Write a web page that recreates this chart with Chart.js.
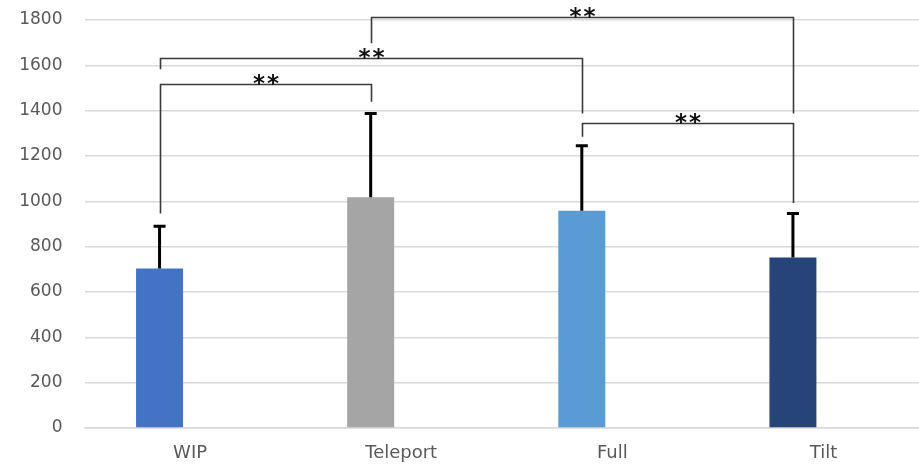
<!DOCTYPE html>
<html>
<head>
<meta charset="utf-8">
<title>Mean time by locomotion technique</title>
<script src="https://cdn.jsdelivr.net/npm/chart.js@4/dist/chart.umd.min.js"></script>
<style>
  html, body { margin: 0; padding: 0; background: #ffffff; overflow: hidden; }
  #wrap { width: 929px; height: 465px; }
</style>
</head>
<body>
<div id="wrap"><canvas id="chart" width="929" height="465"></canvas></div>
<script>
// Categories and values
const categories = ['WIP', 'Teleport', 'Full', 'Tilt'];
const means = [704, 1018, 958, 752];
const stdDev = [186, 370, 287, 194];
const barColors = ['#4472C4', '#A5A5A5', '#5B9BD5', '#264478'];

// Value axis
const yMin = 0;
const yMax = 1800;
const yStep = 200;

// Significance brackets: [from index, to index, bar level, left leg end, right leg end]
const bracketFrom = [0, 0, 1, 2];
const bracketTo = [1, 2, 3, 3];
const bracketLevel = [1519, 1634, 1815, 1347];
const bracketLeftEnd = [946, 1583, 1697, 1285];
const bracketRightEnd = [1439, 1388, 1388, 993];
const bracketLabel = ['**', '**', '**', '**'];

// Upper error bars drawn over each bar
const errorBarPlugin = {
  id: 'errorBars',
  afterDatasetsDraw(chart) {
    const ctx = chart.ctx;
    const y = chart.scales.y;
    const meta = chart.getDatasetMeta(0);
    ctx.save();
    ctx.strokeStyle = '#000000';
    ctx.lineWidth = 3;
    meta.data.forEach((bar, i) => {
      const x = bar.x;
      const y0 = y.getPixelForValue(means[i]);
      const y1 = y.getPixelForValue(means[i] + stdDev[i]);
      ctx.beginPath();
      ctx.moveTo(x, y0);
      ctx.lineTo(x, y1);
      ctx.moveTo(x - 6, y1);
      ctx.lineTo(x + 6, y1);
      ctx.stroke();
    });
    ctx.restore();
  }
};

// Significance brackets with labels
const bracketPlugin = {
  id: 'brackets',
  afterDraw(chart) {
    const ctx = chart.ctx;
    const y = chart.scales.y;
    const meta = chart.getDatasetMeta(0);
    ctx.save();
    ctx.strokeStyle = '#3a3a3a';
    ctx.lineWidth = 1.6;
    ctx.fillStyle = '#111111';
    ctx.font = 'bold 23px "DejaVu Sans"';
    ctx.letterSpacing = '2px';
    ctx.textAlign = 'center';
    ctx.textBaseline = 'alphabetic';
    bracketLevel.forEach((lvl, k) => {
      const xa = Math.round(meta.data[bracketFrom[k]].x) + 0.5;
      const xb = Math.round(meta.data[bracketTo[k]].x) + 0.5;
      const yl = Math.round(y.getPixelForValue(lvl)) + 0.5;
      const ya = y.getPixelForValue(bracketLeftEnd[k]);
      const yb = y.getPixelForValue(bracketRightEnd[k]);
      ctx.beginPath();
      ctx.moveTo(xa, ya);
      ctx.lineTo(xa, yl);
      ctx.lineTo(xb, yl);
      ctx.lineTo(xb, yb);
      ctx.stroke();
      ctx.fillText(bracketLabel[k], (xa + xb) / 2 + 1, yl + 6);
    });
    ctx.restore();
  }
};

new Chart(document.getElementById('chart'), {
  type: 'bar',
  data: {
    labels: categories,
    datasets: [
      {
        data: means,
        backgroundColor: barColors,
        borderWidth: 0,
        categoryPercentage: 0.578,
        barPercentage: 0.77
      },
      {
        data: categories.map(() => null),
        backgroundColor: 'rgba(0,0,0,0)',
        borderWidth: 0,
        categoryPercentage: 0.578,
        barPercentage: 0.77
      }
    ]
  },
  options: {
    responsive: false,
    devicePixelRatio: 1,
    animation: false,
    layout: { padding: { top: 20, left: 0, right: 0, bottom: 0 } },
    plugins: {
      legend: { display: false },
      tooltip: { enabled: false }
    },
    scales: {
      x: {
        grid: { display: false, drawTicks: false },
        border: { display: true, color: '#d9d9d9', width: 1.5 },
        ticks: {
          color: '#595959',
          font: { family: '"DejaVu Sans"', size: 18 },
          padding: 15
        },
        afterFit(scale) { scale.height = 37; }
      },
      y: {
        min: yMin,
        max: yMax,
        grid: { color: '#d9d9d9', lineWidth: 1.5, drawTicks: false },
        border: { display: false },
        ticks: {
          stepSize: yStep,
          color: '#595959',
          font: { family: '"DejaVu Sans"', size: 17 },
          padding: 22,
          callback: (v) => String(v)
        },
        afterFit(scale) {
          scale.width = 84.5;
          scale.paddingTop = 0;
          scale.paddingBottom = 0;
        }
      }
    }
  },
  plugins: [errorBarPlugin, bracketPlugin]
});
</script>
</body>
</html>
